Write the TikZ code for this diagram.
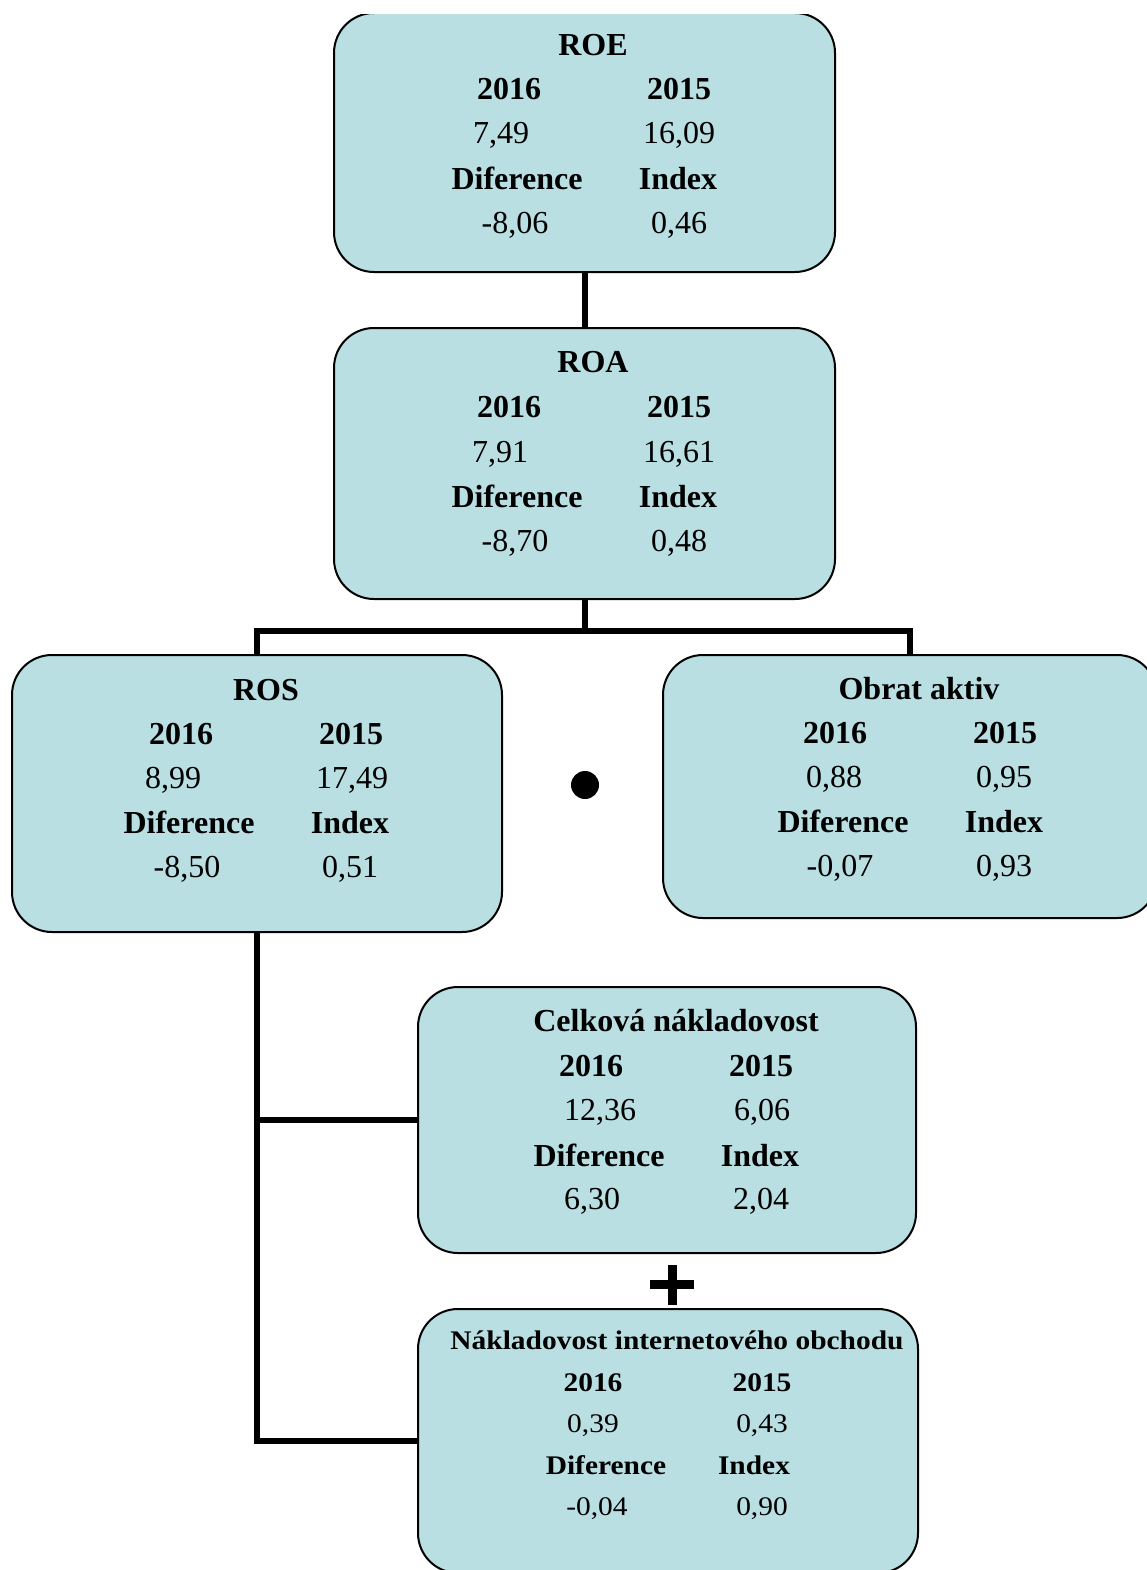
\documentclass[tikz,border=0pt]{standalone}
\usepackage{fontspec}
\usetikzlibrary{calc}
\setmainfont{Liberation Serif}
\definecolor{boxfill}{RGB}{185,223,227}
\begin{document}
\begin{tikzpicture}[x=1pt,y=-1pt,
  box/.style={draw=black, line width=2pt, fill=boxfill, rounded corners=40pt, inner sep=0pt},
  link/.style={draw=black, line width=6pt, line join=miter},
  txt/.style={anchor=base, inner sep=0pt, font=\fontsize{32}{38}\selectfont},
  hd/.style={anchor=base, inner sep=0pt, font=\fontsize{32}{38}\selectfont\bfseries},
  stxt/.style={anchor=base, inner sep=0pt, font=\fontsize{32}{38}\selectfont, xscale=0.92, yscale=0.84, transform shape},
  shd/.style={anchor=base, inner sep=0pt, font=\fontsize{32}{38}\selectfont\bfseries, xscale=0.92, yscale=0.84, transform shape}]
\useasboundingbox (0,0) rectangle (1147,1570);
\clip (0,14.5) rectangle (1147,1570);

% boxes
\node[box, minimum width=501pt, minimum height=259pt] (roe) at (584.5,142.5) {};
\node[box, minimum width=501pt, minimum height=271pt] (roa) at (584.5,463.5) {};
\node[box, minimum width=490pt, minimum height=277pt] (ros) at (257,793.5) {};
\node[box, minimum width=494pt, minimum height=263pt] (obrat) at (910,786.5) {};
\node[box, minimum width=498pt, minimum height=266pt] (celk) at (667,1120) {};
\node[box, minimum width=500pt, minimum height=264pt] (nakl) at (668,1441) {};

% connectors
\draw[link] (roe.south) -- (roa.north);
\coordinate (br) at ($(roa.south)+(0,31)$);
\draw[link] (roa.south) -- (br);
\draw[link] (ros.north) |- (br) -| (obrat.north);
\draw[link] (ros.south) |- (celk.west);
\draw[link] (ros.south) |- (nakl.west);

% operators
\node[circle, fill=black, minimum size=28pt, inner sep=0pt] (dot) at (585,785) {};
\draw[line width=9pt] (650,1284) -- (694,1284);
\draw[line width=9pt] (672,1265) -- (672,1305);

% ROE
\node[hd] (roeT) at (593,56) {ROE};
\node[hd] (roeA) at (509,100) {2016};
\node[hd] (roeB) at (679,100) {2015};
\node[txt] (roeC) at (501,144) {7,49};
\node[txt] (roeD) at (679,144) {16,09};
\node[hd] (roeE) at (517,190) {Diference};
\node[hd] (roeF) at (678,190) {Index};
\node[txt] (roeG) at (515,234) {-8,06};
\node[txt] (roeH) at (679,234) {0,46};

% ROA
\node[hd] (roaT) at (593,372) {ROA};
\node[hd] (roaA) at (509,417) {2016};
\node[hd] (roaB) at (679,417) {2015};
\node[txt] (roaC) at (500,462) {7,91};
\node[txt] (roaD) at (679,462) {16,61};
\node[hd] (roaE) at (517,507) {Diference};
\node[hd] (roaF) at (678,507) {Index};
\node[txt] (roaG) at (515,551) {-8,70};
\node[txt] (roaH) at (679,551) {0,48};

% ROS
\node[hd] (rosT) at (266,700) {ROS};
\node[hd] (rosA) at (181,744) {2016};
\node[hd] (rosB) at (351,744) {2015};
\node[txt] (rosC) at (173,788) {8,99};
\node[txt] (rosD) at (352,788) {17,49};
\node[hd] (rosE) at (189,833) {Diference};
\node[hd] (rosF) at (350,833) {Index};
\node[txt] (rosG) at (187,877) {-8,50};
\node[txt] (rosH) at (350,877) {0,51};

% Obrat aktiv
\node[hd] (obT) at (919,699) {Obrat aktiv};
\node[hd] (obA) at (835,743) {2016};
\node[hd] (obB) at (1005,743) {2015};
\node[txt] (obC) at (834,787) {0,88};
\node[txt] (obD) at (1004,787) {0,95};
\node[hd] (obE) at (843,832) {Diference};
\node[hd] (obF) at (1004,832) {Index};
\node[txt] (obG) at (840,876) {-0,07};
\node[txt] (obH) at (1004,876) {0,93};

% Celkova nakladovost
\node[hd] (ceT) at (676,1031) {Celková nákladovost};
\node[hd] (ceA) at (591,1076) {2016};
\node[hd] (ceB) at (761,1076) {2015};
\node[txt] (ceC) at (600,1120) {12,36};
\node[txt] (ceD) at (762,1120) {6,06};
\node[hd] (ceE) at (599,1166) {Diference};
\node[hd] (ceF) at (760,1166) {Index};
\node[txt] (ceG) at (592,1209) {6,30};
\node[txt] (ceH) at (761,1209) {2,04};

% Nakladovost internetoveho obchodu
\node[shd] (naT) at (677,1349) {Nákladovost internetového obchodu};
\node[shd] (naA) at (593,1391) {2016};
\node[shd] (naB) at (762,1391) {2015};
\node[stxt] (naC) at (593,1432) {0,39};
\node[stxt] (naD) at (762,1432) {0,43};
\node[shd] (naE) at (606,1474) {Diference};
\node[shd] (naF) at (754,1474) {Index};
\node[stxt] (naG) at (597,1515) {-0,04};
\node[stxt] (naH) at (762,1515) {0,90};
\end{tikzpicture}
\end{document}
